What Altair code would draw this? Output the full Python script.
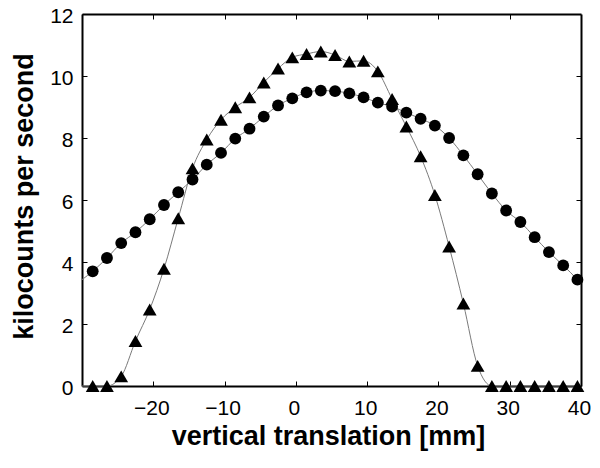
import altair as alt
import pandas as pd

# positions along the scan [mm]
positions = [-28.5, -26.5, -24.5, -22.5, -20.5, -18.5, -16.5, -14.5, -12.5, -10.5,
             -8.5, -6.5, -4.5, -2.5, -0.5, 1.5, 3.5, 5.5, 7.5, 9.5,
             11.5, 13.5, 15.5, 17.5, 19.5, 21.5, 23.5, 25.5, 27.5, 29.5,
             31.5, 33.5, 35.5, 37.5, 39.5]
circles = [3.70, 4.13, 4.61, 4.96, 5.38, 5.84, 6.25, 6.66, 7.14, 7.52,
           7.98, 8.30, 8.69, 9.05, 9.28, 9.47, 9.53, 9.51, 9.44, 9.31,
           9.14, 9.01, 8.82, 8.62, 8.40, 8.00, 7.44, 6.83, 6.21, 5.66,
           5.29, 4.80, 4.32, 3.89, 3.43]
triangles = [0, 0, 0.31, 1.45, 2.47, 3.78, 5.41, 7.02, 7.95, 8.59,
             8.99, 9.31, 9.79, 10.24, 10.60, 10.71, 10.79, 10.68, 10.47, 10.49,
             10.15, 9.26, 8.37, 7.41, 6.16, 4.50, 2.66, 0.65, 0, 0,
             0, 0, 0, 0, 0]
# curve values read at the plot edges
edge_x = [-30, 40]
circle_edges = [3.43, 3.30]
triangle_edges = [0, 0]

x_ticks = [-20, -10, 0, 10, 20, 30, 40]
y_ticks = [0, 2, 4, 6, 8, 10, 12]

df_c = pd.DataFrame({"x": positions, "y": circles})
df_t = pd.DataFrame({"x": positions, "y": triangles})
line_c = pd.DataFrame({"x": [edge_x[0]] + positions + [edge_x[1]],
                       "y": [circle_edges[0]] + circles + [circle_edges[1]]})
line_t = pd.DataFrame({"x": [edge_x[0]] + positions + [edge_x[1]],
                       "y": [triangle_edges[0]] + triangles + [triangle_edges[1]]})

FONT = "Liberation Sans"
xs = alt.Scale(domain=[-30, 40], nice=False, zero=False)
ys = alt.Scale(domain=[0, 12], nice=False)

x_main = alt.X("x:Q", scale=xs, axis=alt.Axis(
    orient="bottom", values=x_ticks, domain=False, grid=False, offset=-5,
    tickSize=5, tickColor="black", tickWidth=1, labelFlush=False, labelOverlap=False,
    labelPadding=11, labelOffset=-2, labelFont=FONT, labelFontSize=21, labelColor="black",
    title="vertical translation [mm]", titleFont=FONT, titleFontSize=27,
    titleFontWeight="bold", titleColor="black", titleX=246, titleY=63,
    titleBaseline="alphabetic", titleAlign="center"))
y_main = alt.Y("y:Q", scale=ys, axis=alt.Axis(
    orient="left", values=y_ticks, domain=False, grid=False, offset=-5,
    tickSize=5, tickColor="black", tickWidth=1, labelFlush=False, labelOverlap=False,
    labelPadding=9, labelOffset=2, labelFont=FONT, labelFontSize=21, labelColor="black",
    title="kilocounts per second", titleFont=FONT, titleFontSize=27,
    titleFontWeight="bold", titleColor="black", titleX=-55, titleY=182,
    titleBaseline="alphabetic", titleAlign="center", titleAngle=-90))

x_top = alt.X("x:Q", scale=xs, axis=alt.Axis(
    orient="top", values=[-20, -10, 0, 10, 20, 30], domain=False, grid=False,
    offset=-5, tickSize=5, tickColor="black", labels=False, title=None))
y_right = alt.Y("y:Q", scale=ys, axis=alt.Axis(
    orient="right", values=[2, 4, 6, 8, 10], domain=False, grid=False,
    offset=-5, tickSize=5, tickColor="black", labels=False, title=None))

# frame lines drawn as axis domains
frame = dict(domain=True, domainColor="black", domainWidth=2, ticks=False,
             labels=False, grid=False, title=None)
x_frame_b = alt.X("x:Q", scale=xs, axis=alt.Axis(orient="bottom", **frame))
y_frame_l = alt.Y("y:Q", scale=ys, axis=alt.Axis(orient="left", **frame))
x_frame_t = alt.X("x:Q", scale=xs, axis=alt.Axis(orient="top", **frame))
y_frame_r = alt.Y("y:Q", scale=ys, axis=alt.Axis(orient="right", **frame))

lc = alt.Chart(line_c).mark_line(color="#7a7a7a", strokeWidth=1, interpolate="monotone").encode(x=x_main, y=y_main)
lt = alt.Chart(line_t).mark_line(color="#7a7a7a", strokeWidth=1, interpolate="monotone").encode(x=x_top, y=y_right)
pc = alt.Chart(df_c).mark_point(shape="circle", filled=True, color="black", size=140, opacity=1).encode(x=x_frame_b, y=y_frame_l)
pt = alt.Chart(df_t).mark_point(shape="triangle-up", filled=True, color="black", size=190, opacity=1).encode(x=x_frame_t, y=y_frame_r)

chart = alt.layer(lc, lt, pc, pt).resolve_axis(x="independent", y="independent").properties(
    width=499, height=372,
    autosize=alt.AutoSizeParams(type="none"),
    padding={"left": 74, "top": 6, "right": 11, "bottom": 70},
).configure_view(stroke=None).configure(background="white")

chart.save("out.html", embed_options={"renderer": "svg", "actions": False})
